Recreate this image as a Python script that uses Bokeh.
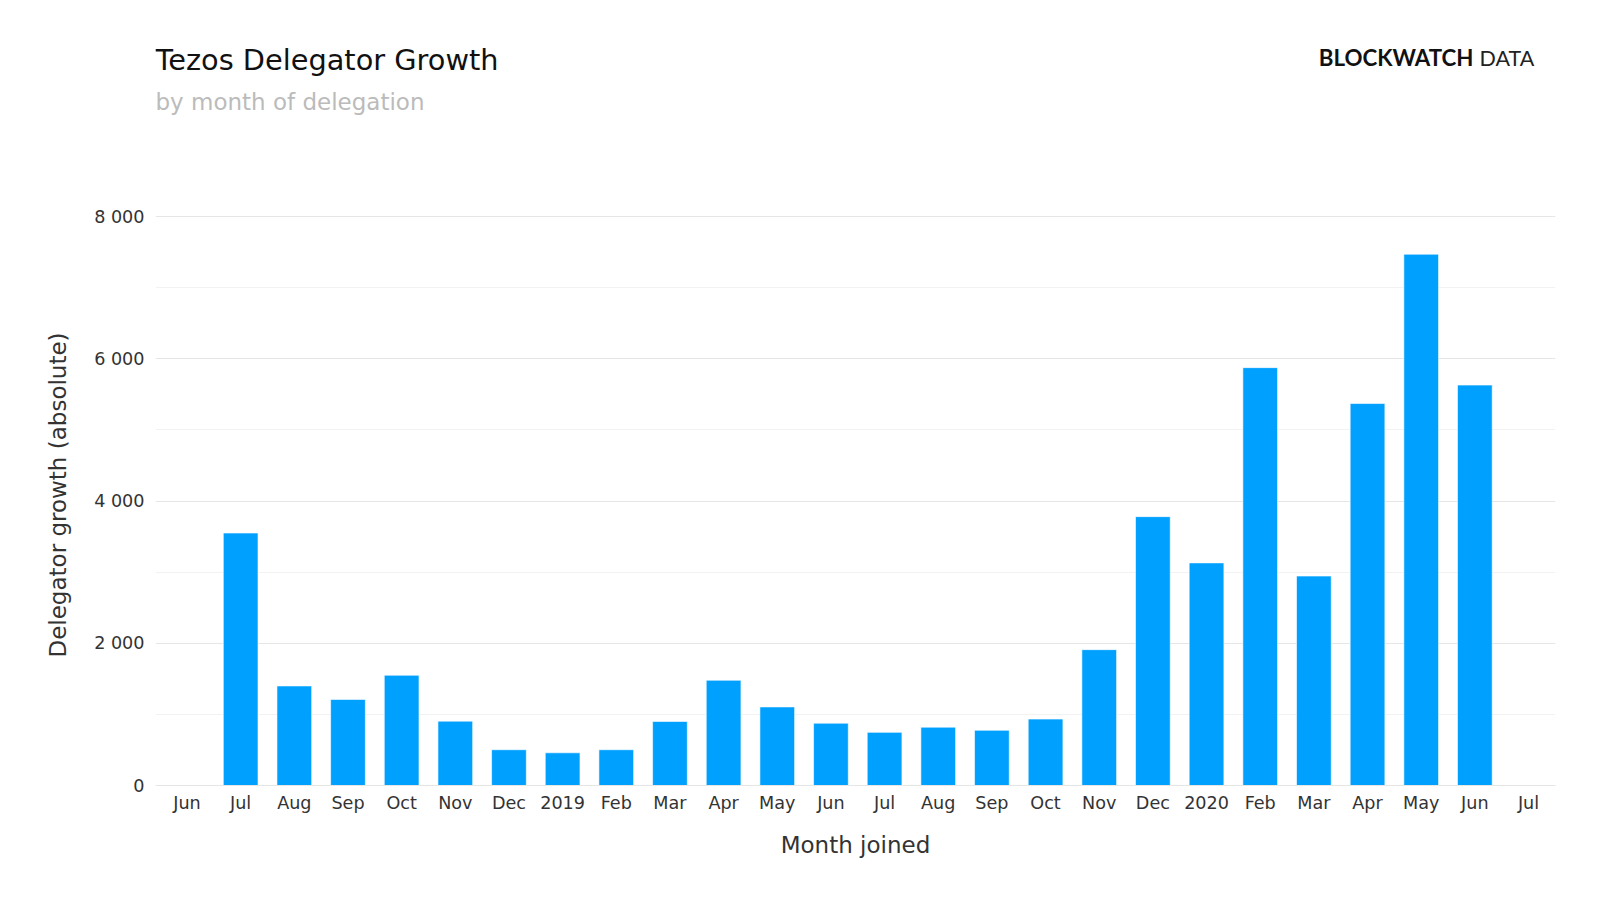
from bokeh.plotting import figure
from bokeh.models import Range1d, FixedTicker, ColumnDataSource
from bokeh.layouts import column
from bokeh.core.properties import value
from bokeh.embed import file_html
from bokeh.resources import INLINE

months = ["Jun", "Jul", "Aug", "Sep", "Oct", "Nov", "Dec", "2019", "Feb", "Mar", "Apr", "May",
          "Jun", "Jul", "Aug", "Sep", "Oct", "Nov", "Dec", "2020", "Feb", "Mar", "Apr", "May",
          "Jun", "Jul"]
growth = [0, 3550, 1400, 1210, 1550, 905, 503, 460, 503, 900, 1480, 1105,
          876, 747, 820, 776, 934, 1910, 3780, 3130, 5875, 2945, 5370, 7470,
          5630, 0]
y_ticks = [0, 2000, 4000, 6000, 8000]
y_minor = [1000, 3000, 5000, 7000]
y_tick_labels = ["0", "2 000", "4 000", "6 000", "8 000"]

title = "Tezos Delegator Growth"
subtitle = "by month of delegation"
logo_bold, logo_light = "BLOCKWATCH", "DATA"

FONT = "DejaVu Sans"
W = 1584
HEAD_H = 190
MAIN_H = 694
FRAME_W = 1400

# ---------- header (title, subtitle, logo) ----------
head = figure(width=W, height=HEAD_H, output_backend="svg", toolbar_location=None,
              title=None, x_range=Range1d(0, FRAME_W), y_range=Range1d(0, HEAD_H),
              x_axis_location=None, y_axis_location=None, outline_line_color=None,
              min_border=0)
head.grid.visible = False
head.text(x=[0], y=[131], text=[title], text_align="left", text_baseline="alphabetic",
          text_font=value(FONT), text_font_size="28.8px", text_color="#111111")
head.text(x=[0], y=[89], text=[subtitle], text_align="left", text_baseline="alphabetic",
          text_font=value(FONT), text_font_size="23px", text_color="#bbbbbb")
head.text(x=[1318], y=[133], text=[logo_bold], text_align="right", text_baseline="alphabetic",
          text_font=value("Lato"), text_font_style="bold", text_font_size="22.3px",
          text_color="#111111")
head.text(x=[1324], y=[133], text=[logo_light], text_align="left", text_baseline="alphabetic",
          text_font=value("Lato"), text_font_size="21.5px", text_color="#222222")

# ---------- main chart ----------
idx = list(range(len(months)))
src = ColumnDataSource(dict(x=idx, top=growth))

p = figure(width=W, height=MAIN_H, output_backend="svg", toolbar_location=None,
           title=None, x_range=Range1d(-0.587, 25.503),
           y_range=Range1d(0, 8000 * 581 / 569),
           min_border_left=155, min_border_right=29, min_border_top=14,
           min_border_bottom=99, outline_line_color=None)
p.xgrid.visible = False

yt = FixedTicker(ticks=y_ticks, minor_ticks=y_minor)
p.ygrid.ticker = yt
p.ygrid.grid_line_color = "#e6e6e6"
p.ygrid.minor_grid_line_color = "#f2f2f2"

p.vbar(x="x", top="top", width=0.647, source=src, fill_color="#00a0ff",
       line_color="#ffffff", line_width=0.6)

ya = p.yaxis[0]
ya.ticker = yt
ya.major_label_overrides = {t: l for t, l in zip(y_ticks, y_tick_labels)}
ya.axis_line_color = None
ya.major_tick_line_color = None
ya.minor_tick_line_color = None
ya.major_label_standoff = 5
ya.major_label_text_font = FONT
ya.major_label_text_font_size = "17.6px"
ya.major_label_text_color = "#333333"
ya.axis_label = "Delegator growth (absolute)"
ya.axis_label_text_font = FONT
ya.axis_label_text_font_size = "23px"
ya.axis_label_text_font_style = "normal"
ya.axis_label_text_color = "#333333"
ya.axis_label_standoff = 20

xa = p.xaxis[0]
xa.ticker = FixedTicker(ticks=idx)
xa.major_label_overrides = {i: m for i, m in enumerate(months)}
xa.major_tick_line_color = None
xa.minor_tick_line_color = None
xa.axis_line_color = "#e6e6e6"
xa.major_label_standoff = 1
xa.major_label_text_font = FONT
xa.major_label_text_font_size = "17.6px"
xa.major_label_text_color = "#333333"
xa.axis_label = "Month joined"
xa.axis_label_text_font = FONT
xa.axis_label_text_font_size = "23px"
xa.axis_label_text_font_style = "normal"
xa.axis_label_text_color = "#333333"
xa.axis_label_standoff = 16

layout = column(head, p, spacing=0)
open("out.html", "w").write(file_html(layout, INLINE))
